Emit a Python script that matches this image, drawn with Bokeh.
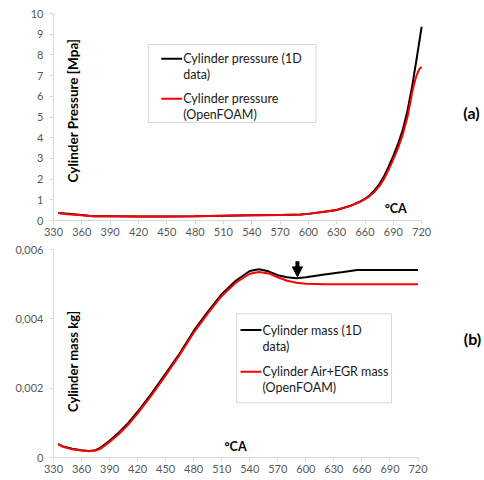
import math
from bokeh.plotting import figure
from bokeh.layouts import column
from bokeh.models import (Label, FixedTicker, CustomJSTickFormatter, Range1d, Arrow,
                          NormalHead, BoxAnnotation)
from bokeh.embed import file_html
from bokeh.resources import INLINE

# ---------------- data (a): cylinder pressure [MPa] vs crank angle ----------------
ca_p_1d = [335, 345, 360, 372, 390, 420, 450, 480, 510, 540, 570, 592, 600, 615, 630, 645,
           655, 660, 665, 670, 675, 680, 685, 690, 695, 700, 705, 710, 715, 720]
p_1d = [0.36, 0.33, 0.27, 0.21, 0.21, 0.19, 0.19, 0.20, 0.23, 0.25, 0.27, 0.29, 0.32, 0.41, 0.51, 0.72,
        0.92, 1.05, 1.22, 1.45, 1.74, 2.12, 2.60, 3.12, 3.70, 4.38, 5.30, 6.50, 7.90, 9.36]
ca_p_of = [335, 345, 360, 372, 390, 420, 450, 480, 510, 540, 570, 592, 600, 615, 630, 645,
           655, 660, 665, 670, 675, 680, 685, 690, 695, 700, 705, 708, 710, 712, 714, 716, 718, 720]
p_of = [0.36, 0.30, 0.25, 0.21, 0.21, 0.19, 0.19, 0.20, 0.23, 0.25, 0.27, 0.29, 0.32, 0.41, 0.51, 0.71,
        0.90, 1.03, 1.18, 1.38, 1.65, 2.00, 2.45, 2.95, 3.50, 4.15, 5.00, 5.70, 6.20, 6.60, 6.92,
        7.17, 7.34, 7.42]

# ---------------- data (b): cylinder mass [kg] vs crank angle ----------------
ca_m_1d = [335, 340, 350, 360, 368, 375, 380, 390, 400, 410, 420, 435, 450, 465, 480, 495, 510,
           525, 540, 550, 560, 570, 580, 590, 600, 620, 640, 655, 660, 690, 720]
m_1d = [0.000385, 0.00032, 0.00025, 0.00021, 0.00019, 0.00021, 0.00028, 0.00048, 0.00072, 0.00100,
        0.00132, 0.00185, 0.00242, 0.00300, 0.00365, 0.00420, 0.00471, 0.00510, 0.00538, 0.00543,
        0.00537, 0.00526, 0.00520, 0.00517, 0.00520, 0.00528, 0.00535, 0.00541, 0.00541, 0.00541,
        0.00541]
ca_m_of = [335, 340, 350, 360, 368, 375, 380, 390, 400, 410, 420, 435, 450, 465, 480, 495, 510,
           525, 540, 550, 560, 570, 580, 590, 600, 620, 660, 720]
m_of = [0.000385, 0.00031, 0.00024, 0.00020, 0.00018, 0.00020, 0.00025, 0.00045, 0.00068, 0.00095,
        0.00127, 0.00180, 0.00237, 0.00296, 0.00360, 0.00415, 0.00466, 0.00504, 0.00530, 0.00535,
        0.00531, 0.00520, 0.00510, 0.00504, 0.00501, 0.00500, 0.00500, 0.00500]

x_ticks = list(range(330, 721, 30))
p_ticks = list(range(0, 11))
m_ticks = [0, 0.002, 0.004, 0.006]

legend_a = [("Cylinder pressure (1D", "data)"), ("Cylinder pressure", "(OpenFOAM)")]
legend_b = [("Cylinder mass (1D", "data)"), ("Cylinder Air+EGR mass", "(OpenFOAM)")]
series_colors = ["black", "#ff0000"]

FONT = "Lato"
TICK_COLOR = "#595959"
AXIS_COLOR = "#d9d9d9"
W, H1, H2 = 484, 240, 240


class Frame:
    """pixel <-> data helper for annotation placement"""
    def __init__(self, left, right_px, x0, x1, top_px, bottom_px, y0, y1):
        self.kx = (right_px - left) / (x1 - x0)
        self.left, self.x0 = left, x0
        self.ky = (bottom_px - top_px) / (y1 - y0)
        self.bottom, self.y0 = bottom_px, y0

    def x(self, px):
        return self.x0 + (px - self.left) / self.kx

    def y(self, py):
        return self.y0 + (self.bottom - py) / self.ky


def make_fig(fr, frame_top, frame_bottom_px, fig_h, y_end, left):
    x_end = fr.x(W)
    p = figure(width=W, height=fig_h, min_border_left=left, min_border_right=0,
               min_border_top=frame_top, min_border_bottom=fig_h - frame_bottom_px,
               output_backend="svg", toolbar_location=None,
               x_range=Range1d(330, x_end), y_range=Range1d(0, y_end))
    p.xgrid.visible = False
    p.ygrid.visible = False
    p.outline_line_color = None
    for ax in (p.xaxis[0], p.yaxis[0]):
        ax.axis_line_color = AXIS_COLOR
        ax.major_tick_line_color = AXIS_COLOR
        ax.minor_tick_line_color = None
        ax.major_tick_out = 4
        ax.major_tick_in = 0
        ax.major_label_text_font = FONT
        ax.major_label_text_font_size = "11px"
        ax.major_label_text_color = TICK_COLOR
    p.xaxis[0].major_label_standoff = 3
    p.yaxis[0].major_label_standoff = 6
    p.xaxis[0].ticker = FixedTicker(ticks=x_ticks)
    p.xaxis[0].bounds = (330, 720)
    return p


def manual_legend(p, fr, box, entries, line_x, line_ys, text_x, dy2):
    l, r, t, b = box
    p.add_layout(BoxAnnotation(left=fr.x(l), right=fr.x(r), top=fr.y(t), bottom=fr.y(b),
                               fill_color="white", fill_alpha=1, line_color="#7f7f7f",
                               line_width=1))
    for (l1, l2), col, ly in zip(entries, series_colors, line_ys):
        p.add_layout(Arrow(start=None, end=None, x_start=fr.x(line_x[0]), x_end=fr.x(line_x[1]),
                           y_start=fr.y(ly), y_end=fr.y(ly), line_color=col, line_width=2))
        for txt, yy in ((l1, ly), (l2, ly + dy2)):
            p.add_layout(Label(x=fr.x(text_x), y=fr.y(yy), text=txt, text_align="left",
                               text_baseline="middle", text_font=FONT, text_font_size="12.5px",
                               text_color="#1a1a1a"))


def bold_label(p, x, y, text, size, angle=0.0, bg=None):
    p.add_layout(Label(x=x, y=y, text=text, angle=angle, text_align="center",
                       text_baseline="middle", text_font=FONT, text_font_size=size,
                       text_font_style="bold", text_color="black",
                       background_fill_color=bg))


# ---------------- top figure (a) ----------------
fa = Frame(52, 421, 330, 720, 13, 220, 0, 10)
p1 = make_fig(fa, 13, 220, H1, 10, 52)
p1.yaxis[0].ticker = FixedTicker(ticks=p_ticks)
p1.line(ca_p_1d, p_1d, line_color=series_colors[0], line_width=2)
p1.line(ca_p_of, p_of, line_color=series_colors[1], line_width=2)
manual_legend(p1, fa, (147, 315, 44, 122), legend_a, (160, 181), (58.3, 98.3), 182, 15.5)
bold_label(p1, fa.x(72), fa.y(110), "Cylinder Pressure [Mpa]", "13.5px", math.pi / 2, "white")
bold_label(p1, fa.x(395), fa.y(207.7), "°CA", "12.5px")
bold_label(p1, fa.x(471), fa.y(112), "(a)", "16px")

# ---------------- bottom figure (b) ----------------
fb = Frame(53, 417.5, 330, 720, 248.7 - H1, 456.7 - H1, 0, 0.006)
p2 = make_fig(fb, 9, 217, H2, 0.006, 53)
p2.yaxis[0].ticker = FixedTicker(ticks=m_ticks)
p2.yaxis[0].formatter = CustomJSTickFormatter(
    code="return tick == 0 ? '0' : tick.toFixed(3).replace('.', ',');")
p2.line(ca_m_1d, m_1d, line_color=series_colors[0], line_width=2)
p2.line(ca_m_of, m_of, line_color=series_colors[1], line_width=2)
manual_legend(p2, fb, (236 - 0, 391, 313 - H1, 402 - H1), legend_b, (240, 261),
              (329.3 - H1, 371 - H1), 262, 16)
bold_label(p2, fb.x(72), fb.y(360.5 - H1), "Cylinder mass kg]", "13px", math.pi / 2, "white")
bold_label(p2, fb.x(235), fb.y(445.8 - H1), "°CA", "12.5px")
bold_label(p2, fb.x(472), fb.y(338 - H1), "(b)", "16px")
p2.add_layout(Arrow(end=NormalHead(size=10, fill_color="black", line_color="black"),
                    x_start=591, y_start=0.00566, x_end=591, y_end=0.00521,
                    line_color="black", line_width=4))

layout = column(p1, p2, spacing=0)
open("out.html", "w").write(file_html(layout, INLINE))
